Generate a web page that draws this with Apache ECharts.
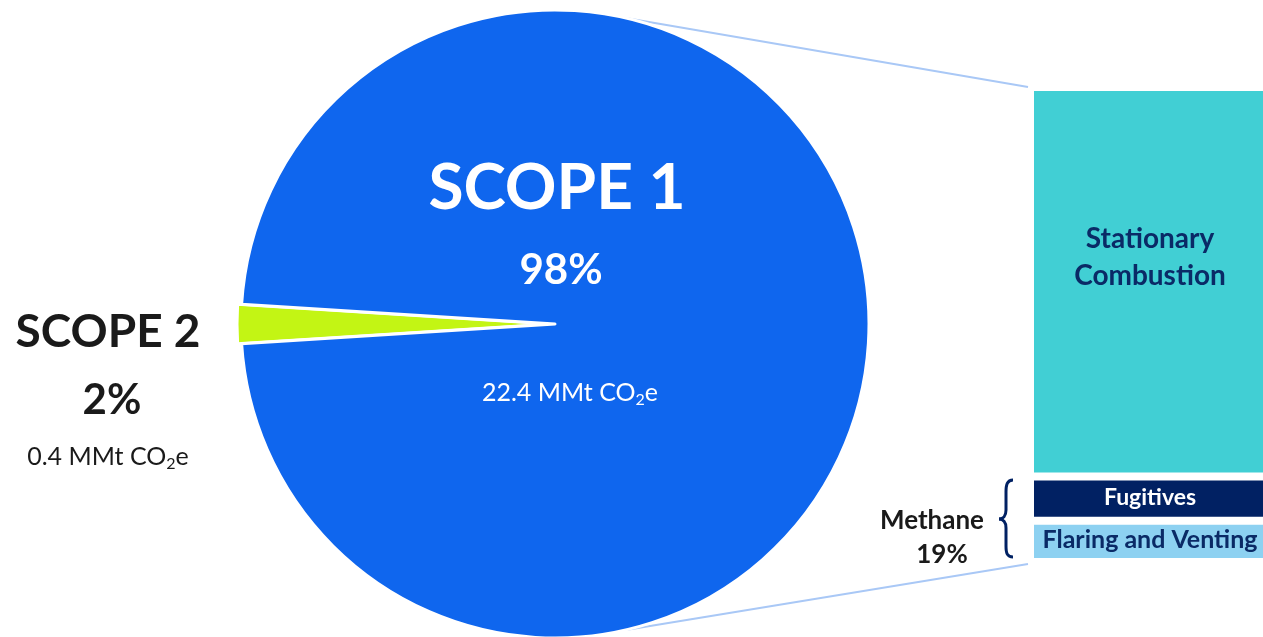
<!DOCTYPE html>
<html>
<head>
<meta charset="utf-8">
<script src="https://cdn.jsdelivr.net/npm/echarts@6/dist/echarts.min.js"></script>
<style>
  html, body { margin: 0; padding: 0; background: #fff; }
  #main { width: 1263px; height: 637px; }
</style>
</head>
<body>
<div id="main"></div>
<script>
// scope split of emissions
var scopeNames = ['SCOPE 2', 'SCOPE 1'];
var scopeShare = [2, 98];
var scopeMMt = [0.4, 22.4];
var scopeColors = ['#c3f514', '#0f66ee'];

// scope 1 breakdown (stacked bar)
var breakdownNames = ['Stationary Combustion', 'Fugitives', 'Flaring and Venting'];
var breakdownShare = [82, 9.3, 8.7];
var breakdownColors = ['#41cfd4', '#012163', '#8dd1f1'];
var breakdownText = ['#0a2a66', '#ffffff', '#0a2a66'];
var methaneShare = 19;

var FONT = 'Lato, "Open Sans", sans-serif';
var NAVY = '#012163';

var pieCenter = [555, 324];
var pieRadius = 314;

var grid = { left: 1030, top: 87, width: 245, height: 475, outerBoundsMode: 'none' };

var chart = echarts.init(document.getElementById('main'));

// connector lines from pie edge to the bar corners
function edgePoint(deg) {
    var r = deg * Math.PI / 180;
    return [pieCenter[0] + pieRadius * Math.cos(r), pieCenter[1] - pieRadius * Math.sin(r)];
}
var topStart = edgePoint(77);
var botStart = edgePoint(-77);

function co2(value, size, color) {
    return {
        text: '{a|' + value + ' MMt CO}{s|2}{a|e}',
        rich: {
            a: { fontSize: size, fontFamily: FONT, fill: color, color: color },
            s: { fontSize: Math.round(size * 0.62), fontFamily: FONT, fill: color, color: color, padding: [14, 0, 0, 0] }
        }
    };
}

function txt(x, y, text, size, weight, color) {
    return {
        type: 'text', x: x, y: y, z: 100,
        style: {
            text: text, fontSize: size, fontWeight: weight, fontFamily: FONT,
            fill: color, textAlign: 'center', textVerticalAlign: 'middle'
        }
    };
}

var c1 = co2(scopeMMt[1], 25, '#ffffff');
var c2 = co2(scopeMMt[0], 25, '#1a1a1a');

var braceStyle = { stroke: NAVY, lineWidth: 3, fill: null };

var labelSizes = [28, 23, 25];

var option = {
    backgroundColor: '#ffffff',
    animation: false,
    grid: grid,
    xAxis: { type: 'category', data: ['Scope 1'], show: false },
    yAxis: { type: 'value', min: 0, max: 100, inverse: true, show: false },
    series: [
        {
            name: 'scope',
            type: 'pie',
            center: pieCenter,
            radius: [0, pieRadius],
            startAngle: 180 + scopeShare[0] * 1.8,
            clockwise: true,
            selectedMode: 'single',
            selectedOffset: 4,
            label: { show: false },
            labelLine: { show: false },
            itemStyle: { borderColor: '#ffffff', borderWidth: 3 },
            emphasis: { disabled: true },
            data: scopeNames.map(function (n, i) {
                return { name: n, value: scopeShare[i], selected: i === 0, itemStyle: { color: scopeColors[i] } };
            })
        }
    ].concat(breakdownNames.map(function (n, i) {
        return {
            name: n,
            type: 'bar',
            stack: 'scope1',
            barWidth: '100%',
            itemStyle: { color: breakdownColors[i], borderColor: '#ffffff', borderWidth: 4 },
            label: {
                show: true,
                position: 'insideLeft',
                formatter: i === 0 ? 'Stationary\nCombustion' : n,
                color: breakdownText[i],
                fontFamily: FONT,
                fontWeight: 'bold',
                fontSize: labelSizes[i],
                lineHeight: 37,
                align: 'center',
                offset: i === 0 ? [115, -24] : [115, -1],
                overflow: 'none'
            },
            emphasis: { disabled: true },
            data: [breakdownShare[i]]
        };
    })),
    graphic: [
        { type: 'line', z: 0, shape: { x1: topStart[0], y1: topStart[1], x2: grid.left - 2, y2: grid.top }, style: { stroke: '#a9c8f6', lineWidth: 2 } },
        { type: 'line', z: 0, shape: { x1: botStart[0], y1: botStart[1], x2: grid.left - 2, y2: grid.top + grid.height + 2 }, style: { stroke: '#a9c8f6', lineWidth: 2 } },

        txt(557, 188, scopeNames[1], 64, 'bold', '#ffffff'),
        txt(561, 270, scopeShare[1] + '%', 42, 'bold', '#ffffff'),
        { type: 'text', x: 570, y: 393, z: 100, style: Object.assign({ textAlign: 'center', textVerticalAlign: 'middle' }, c1) },

        txt(108, 332, scopeNames[0], 46, 'bold', '#1a1a1a'),
        txt(112, 400, scopeShare[0] + '%', 42, 'bold', '#1a1a1a'),
        { type: 'text', x: 108, y: 457, z: 100, style: Object.assign({ textAlign: 'center', textVerticalAlign: 'middle' }, c2) },

        txt(932, 521, 'Methane', 26, 'bold', '#1a1a1a'),
        txt(942, 555, methaneShare + '%', 26, 'bold', '#1a1a1a'),

        // brace
        { type: 'bezierCurve', shape: { x1: 1013, y1: 480, cpx1: 1007, cpy1: 480, cpx2: 1006, cpy2: 485, x2: 1006, y2: 492 }, style: braceStyle },
        { type: 'line', shape: { x1: 1006, y1: 492, x2: 1006, y2: 510 }, style: braceStyle },
        { type: 'bezierCurve', shape: { x1: 1006, y1: 510, cpx1: 1006, cpy1: 516, cpx2: 1003, cpy2: 519, x2: 999, y2: 519 }, style: braceStyle },
        { type: 'bezierCurve', shape: { x1: 999, y1: 519, cpx1: 1003, cpy1: 519, cpx2: 1006, cpy2: 522, x2: 1006, y2: 528 }, style: braceStyle },
        { type: 'line', shape: { x1: 1006, y1: 528, x2: 1006, y2: 546 }, style: braceStyle },
        { type: 'bezierCurve', shape: { x1: 1006, y1: 546, cpx1: 1006, cpy1: 553, cpx2: 1007, cpy2: 557, x2: 1013, y2: 557 }, style: braceStyle }
    ]
};

chart.setOption(option);
</script>
</body>
</html>
